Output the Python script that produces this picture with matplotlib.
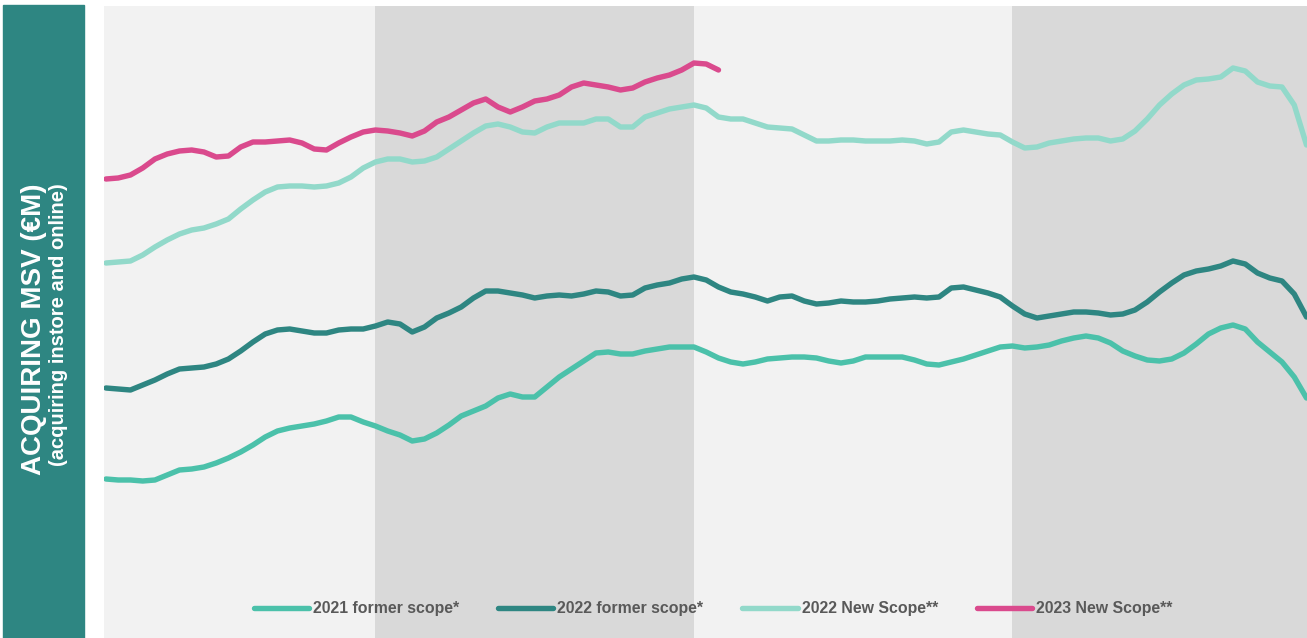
import numpy as np
import matplotlib
matplotlib.use('Agg')
import matplotlib.pyplot as plt
from matplotlib.patches import Rectangle

plt.rcParams['font.family'] = ['Liberation Sans', 'DejaVu Sans']

# half-week positions (week 2 .. week 51)
weeks = np.arange(2, 51.5, 0.5)

msv_2021_former = [159, 158, 158, 157, 158, 163, 168, 169, 171, 175, 180, 186, 193, 201, 207, 210, 212, 214, 217, 221, 221, 216, 212, 207, 203, 197,
                   199, 205, 213, 222, 227, 232, 240, 244, 241, 241, 251, 261, 269, 277, 285, 286, 284, 284, 287, 289, 291, 291, 291, 286, 280,
                   276, 274, 276, 279, 280, 281, 281, 280, 277, 275, 277, 281, 281, 281, 281, 278, 274, 273, 276, 279, 283, 287, 291, 292,
                   290, 291, 293, 297, 300, 302, 300, 295, 287, 282, 278, 277, 279, 285, 294, 304, 310, 313, 309, 296, 286, 276, 261, 240]

msv_2022_former = [250, 249, 248, 253, 258, 264, 269, 270, 271, 274, 279, 287, 296, 304, 308, 309, 307, 305, 305, 308, 309, 309, 312, 316, 314, 306,
                   311, 320, 325, 331, 340, 347, 347, 345, 343, 340, 342, 343, 342, 344, 347, 346, 342, 343, 350, 353, 355, 359, 361, 358, 351,
                   346, 344, 341, 337, 341, 342, 337, 334, 335, 337, 336, 336, 337, 339, 340, 341, 340, 341, 350, 351, 348, 345, 341, 332,
                   324, 320, 322, 324, 326, 326, 325, 323, 324, 328, 336, 346, 355, 363, 367, 369, 372, 377, 374, 365, 360, 357, 344, 321]

msv_2022_new = [375, 376, 377, 383, 391, 398, 404, 408, 410, 414, 419, 429, 438, 446, 451, 452, 452, 451, 452, 455, 461, 470, 476, 479, 479, 476,
                477, 481, 489, 497, 505, 512, 514, 511, 506, 505, 511, 515, 515, 515, 519, 519, 511, 511, 521, 525, 529, 531, 533, 530, 521,
                519, 519, 515, 511, 510, 509, 503, 497, 497, 498, 498, 497, 497, 497, 498, 497, 494, 496, 506, 508, 506, 504, 503, 496,
                490, 491, 495, 497, 499, 500, 500, 497, 499, 507, 519, 533, 544, 553, 558, 559, 561, 570, 567, 556, 552, 551, 533, 493]

msv_2023_new = [459, 460, 463, 470, 479, 484, 487, 488, 486, 481, 482, 491, 496, 496, 497, 498, 495, 489, 488, 495,
                501, 506, 508, 507, 505, 502, 507, 516, 521, 528, 535, 539, 531, 526, 531, 537, 539, 543, 551, 555,
                553, 551, 548, 550, 556, 560, 563, 568, 575, 574, 568]

labels = ['2021 former scope*', '2022 former scope*', '2022 New Scope**', '2023 New Scope**']
colors = ['#4BC1AA', '#2E8682', '#92D9CA', '#DA4A8D']

fig = plt.figure(figsize=(13.07, 6.38), dpi=100)
fig.patch.set_facecolor('white')

# teal title bar on the left
fig.patches.append(Rectangle((3 / 1307, 0), 81 / 1307, 633 / 638,
                             transform=fig.transFigure, color='#2E8682', zorder=0))
fig.text(34 / 1307, 1 - 329 / 638, 'ACQUIRING MSV (€M)', rotation=90, ha='center', va='center',
         color='white', fontsize=20, fontweight='bold')
fig.text(58 / 1307, 1 - 325 / 638, '(acquiring instore and online)', rotation=90, ha='center', va='center',
         color='white', fontsize=14.5, fontweight='bold')

ax = fig.add_axes([104 / 1307, 0, 1203 / 1307, 632 / 638])
ax.set_facecolor('#F2F2F2')
ax.axvspan(13, 26, color='#D9D9D9', lw=0, zorder=0)
ax.axvspan(39, 52, color='#D9D9D9', lw=0, zorder=0)

series = [msv_2021_former, msv_2022_former, msv_2022_new, msv_2023_new]
handles = []
for vals, c, lab in zip(series, colors, labels):
    h, = ax.plot(weeks[:len(vals)], vals, color=c, lw=3.9, label=lab,
                 solid_capstyle='round', solid_joinstyle='round', zorder=3)
    handles.append(h)

ax.set_xlim(1.92, 51.02)
ax.set_ylim(0, 632)
ax.set_xticks([])
ax.set_yticks([])
for s in ax.spines.values():
    s.set_visible(False)

ax.legend(handles=handles, loc='center', bbox_to_anchor=(713 / 1307, 29 / 638),
          bbox_transform=fig.transFigure, ncol=4, frameon=False,
          prop={'weight': 'bold', 'size': 11.4}, labelcolor='#595959',
          handlelength=3.5, handletextpad=0.25, columnspacing=2.45)

fig.savefig('out.png', dpi=100)
